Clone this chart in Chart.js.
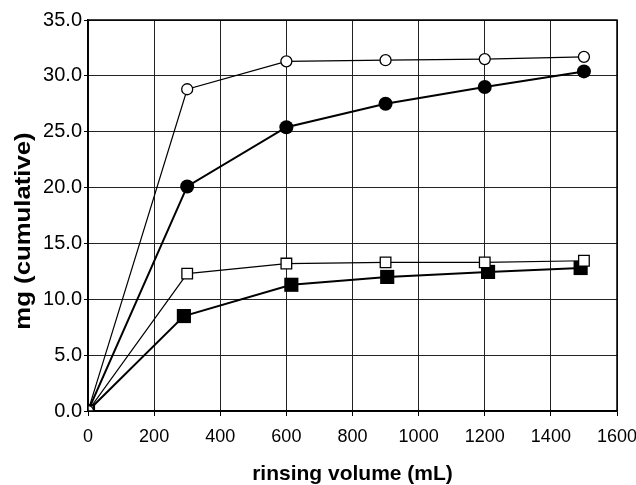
<!DOCTYPE html>
<html>
<head>
<meta charset="utf-8">
<script src="https://cdn.jsdelivr.net/npm/chart.js@4/dist/chart.umd.min.js"></script>
<style>
  body { margin: 0; background: #fff; }
  #wrap { width: 636px; height: 485px; }
</style>
</head>
<body>
<div id="wrap"><canvas id="myCanvas" width="636" height="485"></canvas></div>
<script>
// rinsing volume (mL) for each series
const volOpenCircle = [0, 300, 600, 900, 1200, 1500];
const volFilledCircle = [0, 300, 600, 900, 1200, 1500];
const volOpenSquare = [0, 300, 600, 900, 1200, 1500];
const volFilledSquare = [0, 290, 615, 905, 1210, 1490];

// mg (cumulative)
const mgOpenCircle = [0, 28.8, 31.3, 31.4, 31.5, 31.7];
const mgFilledCircle = [0, 20.1, 25.4, 27.5, 29.0, 30.4];
const mgOpenSquare = [0, 12.3, 13.2, 13.3, 13.3, 13.45];
const mgFilledSquare = [0, 8.5, 11.3, 12.0, 12.45, 12.8];

const xTicks = [0, 200, 400, 600, 800, 1000, 1200, 1400, 1600];
const yTicks = [0, 5, 10, 15, 20, 25, 30, 35];
const yTitle = 'mg (cumulative)';

function pts(xs, ys) {
  return xs.map((x, i) => ({ x: x, y: ys[i] }));
}

const font = 'Liberation Sans, Arial, sans-serif';

const chartData = {
  datasets: [
    {
      label: 'open circle',
      data: pts(volOpenCircle, mgOpenCircle),
      borderColor: '#000',
      borderWidth: 1.2,
      pointStyle: 'circle',
      pointRadius: 5.5,
      pointBorderWidth: 1.3,
      pointBackgroundColor: '#fff',
      pointBorderColor: '#000'
    },
    {
      label: 'open square',
      data: pts(volOpenSquare, mgOpenSquare),
      borderColor: '#000',
      borderWidth: 1.2,
      pointStyle: 'rect',
      pointRadius: 7.5,
      pointBorderWidth: 1.3,
      pointBackgroundColor: '#fff',
      pointBorderColor: '#000'
    },
    {
      label: 'filled circle',
      data: pts(volFilledCircle, mgFilledCircle),
      borderColor: '#000',
      borderWidth: 2,
      pointStyle: 'circle',
      pointRadius: 7,
      pointBorderWidth: 0,
      pointBackgroundColor: '#000',
      pointBorderColor: '#000'
    },
    {
      label: 'filled square',
      data: pts(volFilledSquare, mgFilledSquare),
      borderColor: '#000',
      borderWidth: 2,
      pointStyle: 'rect',
      pointRadius: 10,
      pointBorderWidth: 0,
      pointBackgroundColor: '#000',
      pointBorderColor: '#000'
    }
  ]
};

const canvas = document.getElementById('myCanvas');
new Chart(canvas, {
  type: 'line',
  data: chartData,
  options: {
    responsive: false,
    animation: false,
    layout: { padding: { left: 0, right: 19, top: 20, bottom: 0 } },
    plugins: { legend: { display: false }, tooltip: { enabled: false } },
    elements: { line: { tension: 0 } },
    scales: {
      x: {
        type: 'linear',
        min: 0,
        max: 1600,
        afterBuildTicks: axis => { axis.ticks = xTicks.map(v => ({ value: v })); },
        afterFit: axis => { axis.height = 74; axis.paddingRight = 0; axis.paddingLeft = 0; },
        border: { display: true, color: '#000', width: 1.5 },
        grid: { color: '#222', lineWidth: 1, drawTicks: true, tickLength: 5, tickColor: '#000' },
        ticks: { color: '#000', font: { family: font, size: 18 }, padding: 10, maxRotation: 0,
                 callback: v => String(v) },
        title: { display: true, text: 'rinsing volume (mL)', color: '#000',
                 font: { family: font, size: 21, weight: 'bold' }, padding: { top: 0, bottom: -2 } }
      },
      y: {
        type: 'linear',
        min: 0,
        max: 35,
        afterBuildTicks: axis => { axis.ticks = yTicks.map(v => ({ value: v })); },
        afterFit: axis => { axis.width = 88; axis.paddingTop = 0; axis.paddingBottom = 0; },
        border: { display: true, color: '#000', width: 1.5 },
        grid: { color: '#222', lineWidth: 1, drawTicks: true, tickLength: 4, tickColor: '#000' },
        ticks: { color: '#000', font: { family: font, size: 20 }, padding: 2,
                 callback: v => v.toFixed(1) },
        title: { display: false }
      }
    }
  },
  plugins: [{
    id: 'frame',
    afterDraw(chart) {
      const a = chart.chartArea, c = chart.ctx;
      c.save();
      c.strokeStyle = '#000';
      c.lineWidth = 1.5;
      c.strokeRect(a.left, a.top, a.right - a.left, a.bottom - a.top);
      // y axis title, a bit stretched along its length like the original
      c.translate(24, 231);
      c.rotate(-Math.PI / 2);
      c.scale(1.17, 1);
      c.fillStyle = '#000';
      c.font = 'bold 22px ' + font;
      c.textAlign = 'center';
      c.textBaseline = 'middle';
      c.fillText(yTitle, 0, 0);
      c.restore();
    }
  }]
});
</script>
</body>
</html>
